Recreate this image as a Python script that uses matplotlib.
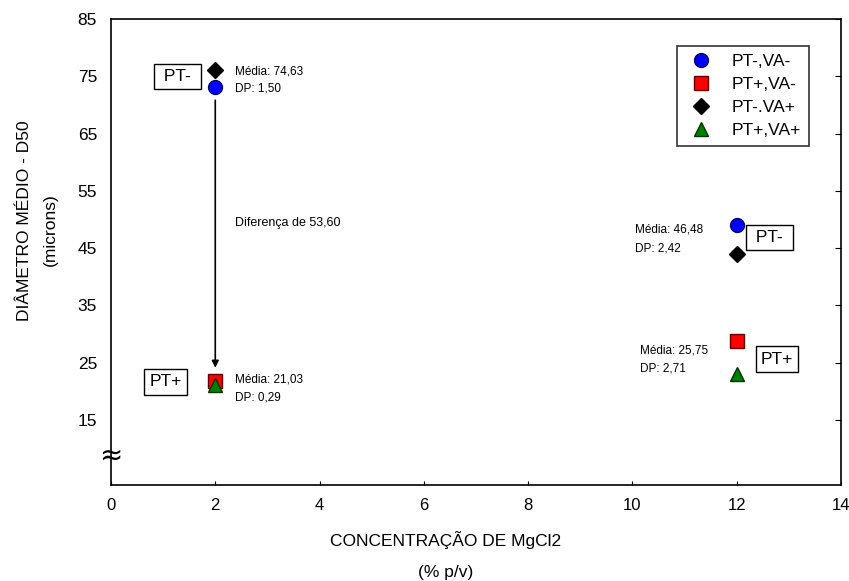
import numpy as np
import matplotlib
matplotlib.use("Agg")
import matplotlib.pyplot as plt

plt.rcParams['font.family'] = ['Liberation Sans', 'DejaVu Sans']

conc = [2, 12]
series = ['PT-,VA-', 'PT+,VA-', 'PT-.VA+', 'PT+,VA+']
d50_pt_va = [73.1, 49.0]      # PT-,VA-
d50_ptp_va = [21.8, 28.8]     # PT+,VA-
d50_pt_vap = [76.1, 44.0]     # PT-.VA+
d50_ptp_vap = [21.0, 23.0]    # PT+,VA+

xticks = [0, 2, 4, 6, 8, 10, 12, 14]
yticks = [15, 25, 35, 45, 55, 65, 75, 85]

fig = plt.figure(figsize=(8.49, 5.81), dpi=100)
ax = fig.add_axes([0.1307, 0.1652, 0.86, 0.802])

ax.plot(conc, d50_pt_va, 'o', color='blue', mec='#000066', ms=10, label=series[0])
ax.plot(conc, d50_ptp_va, 's', color='red', mec='#660000', ms=10, label=series[1])
ax.plot(conc, d50_pt_vap, 'D', color='black', ms=8, label=series[2])
ax.plot(conc, d50_ptp_vap, '^', color='green', mec='#003300', ms=10, label=series[3])

ax.set_xlim(0, 14)
ax.set_ylim(3.6, 85)
ax.set_xticks(xticks)
ax.set_yticks(yticks)
ax.tick_params(axis='x', direction='in', length=3, labelsize=12, pad=9)
ax.tick_params(axis='y', direction='in', length=0, labelsize=12.5, pad=10,
               right=True)
for t in ax.yaxis.get_major_ticks():
    t.tick2line.set_markersize(4)
for s in ax.spines.values():
    s.set_linewidth(1.2)

# eixo quebrado
ax.text(0, 8.8, '≈', transform=ax.get_yaxis_transform(), ha='center',
        va='center', fontsize=20, clip_on=False, family='DejaVu Sans')

# seta da diferença
ax.annotate('', xy=(2, 23.6), xytext=(2, 71.3),
            arrowprops=dict(arrowstyle='-|>', color='black', lw=1.2,
                            mutation_scale=10))
ax.text(2.37, 49.4, 'Diferença de 53,60', fontsize=9, va='center')

box = dict(boxstyle='square,pad=0.3', fc='white', ec='black', lw=1)
ax.text(1.27, 75, ' PT- ', fontsize=12.5, ha='center', va='center', bbox=box)
ax.text(1.05, 21.6, 'PT+', fontsize=12.5, ha='center', va='center', bbox=box)
ax.text(12.63, 46.8, ' PT- ', fontsize=12.5, ha='center', va='center', bbox=box)
ax.text(12.77, 25.6, 'PT+', fontsize=12.5, ha='center', va='center', bbox=box)

ax.text(2.37, 75.8, 'Média: 74,63', fontsize=8.5, va='center')
ax.text(2.37, 72.8, 'DP: 1,50', fontsize=8.5, va='center')
ax.text(2.37, 22.0, 'Média: 21,03', fontsize=8.5, va='center')
ax.text(2.37, 18.9, 'DP: 0,29', fontsize=8.5, va='center')
ax.text(10.05, 48.2, 'Média: 46,48', fontsize=8.5, va='center')
ax.text(10.05, 45.0, 'DP: 2,42', fontsize=8.5, va='center')
ax.text(10.15, 27.1, 'Média: 25,75', fontsize=8.5, va='center')
ax.text(10.15, 23.9, 'DP: 2,71', fontsize=8.5, va='center')

leg = ax.legend(loc='upper right', bbox_to_anchor=(0.956, 0.942), fontsize=12.5,
                frameon=True, fancybox=False, edgecolor='black',
                handletextpad=0.9, borderpad=0.45, labelspacing=0.45,
                handlelength=1.8, borderaxespad=0)
leg.get_frame().set_linewidth(1.2)

fig.text(0.525, 0.07, 'CONCENTRAÇÃO DE MgCl2', ha='center', va='center', fontsize=12.5)
fig.text(0.525, 0.015, '(% p/v)', ha='center', va='center', fontsize=12.5)
fig.text(0.029, 0.621, 'DIÂMETRO MÉDIO - D50', rotation=90, ha='center', va='center', fontsize=12.5)
fig.text(0.059, 0.604, '(microns)', rotation=90, ha='center', va='center', fontsize=12.5)

fig.savefig('out.png', dpi=100)
